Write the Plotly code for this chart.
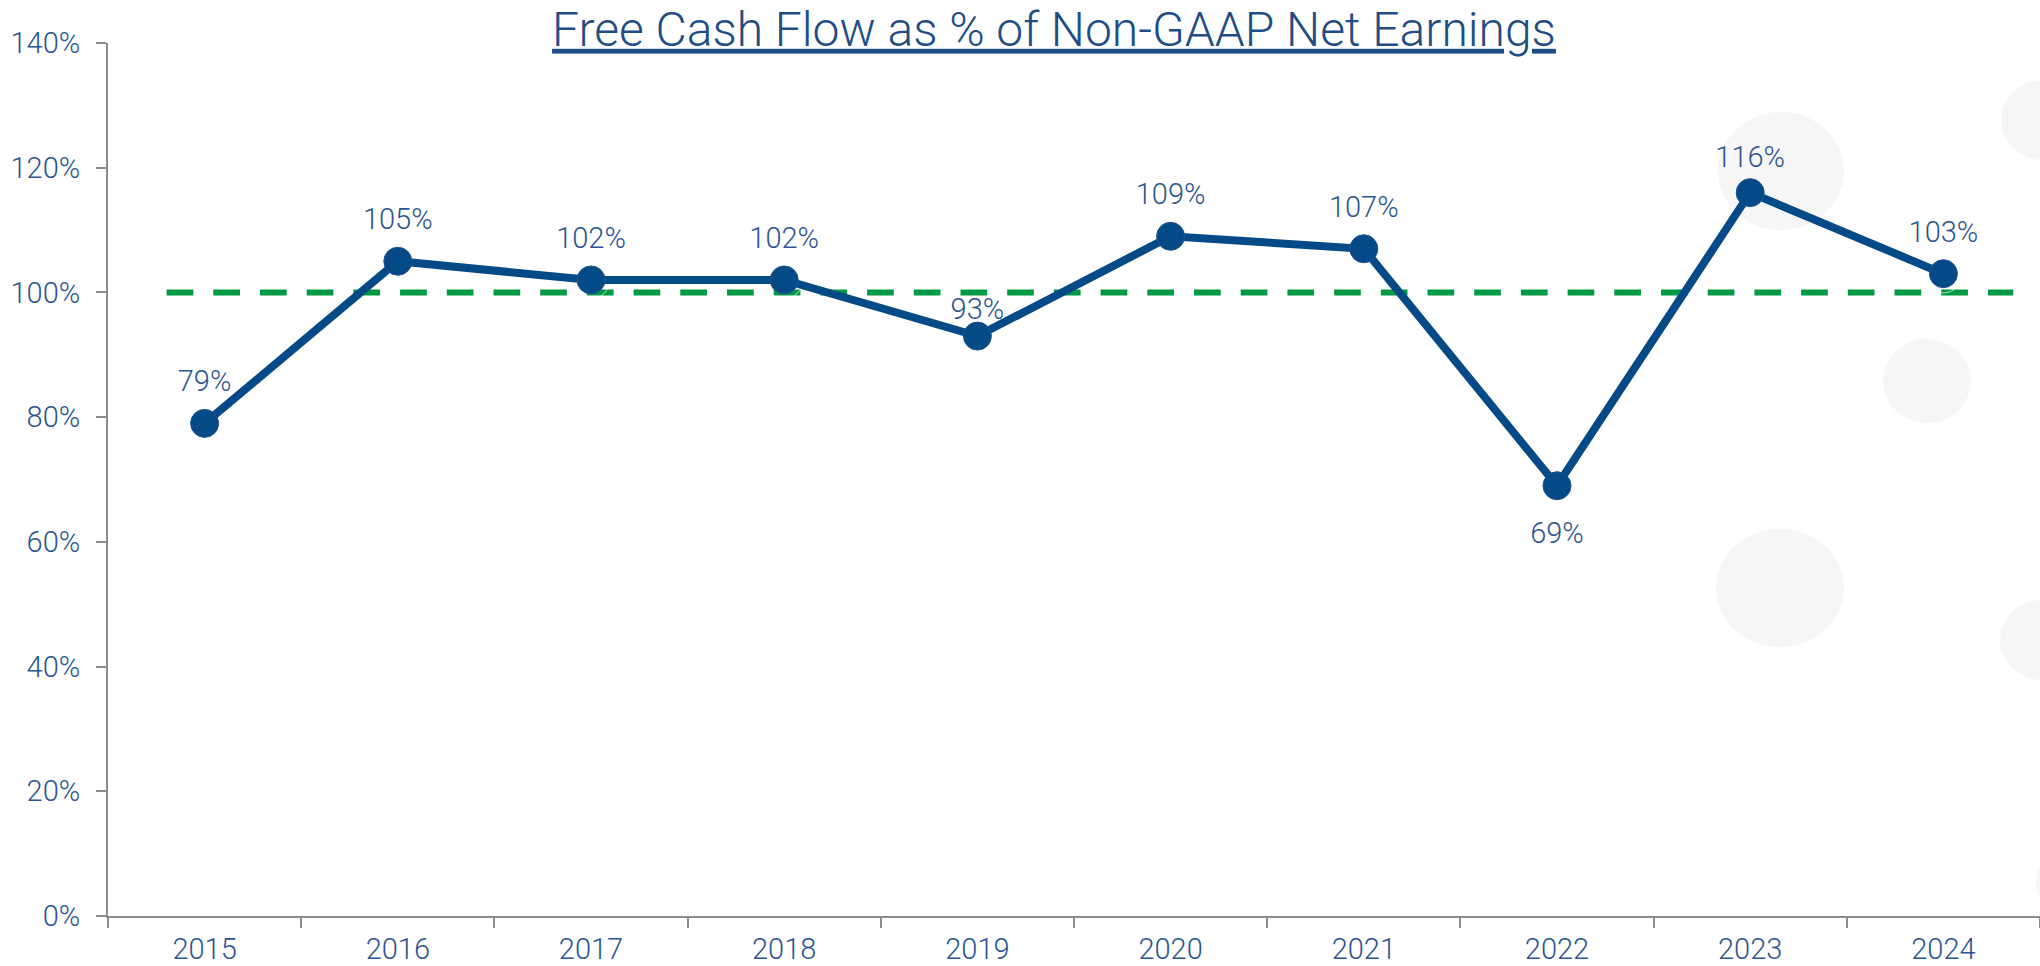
import plotly.graph_objects as go

# ---- data ----
years = ["2015", "2016", "2017", "2018", "2019", "2020", "2021", "2022", "2023", "2024"]
fcf_pct = [79, 105, 102, 102, 93, 109, 107, 69, 116, 103]
label_text = ["79%", "105%", "102%", "102%", "93%", "109%", "107%", "69%", "116%", "103%"]
label_below = [False, False, False, False, False, False, False, True, False, False]
target_pct = 100
y_ticks = [0, 20, 40, 60, 80, 100, 120, 140]
y_tick_text = ["0%", "20%", "40%", "60%", "80%", "100%", "120%", "140%"]
title_text = "Free Cash Flow as % of Non-GAAP Net Earnings"

# ---- geometry / style ----
W, H = 2040, 966
L, R, T, B = 108, 0, 43, 50
PX0, PX1 = L, W - R
PY0, PY1 = T, H - B

# distance (px) from point centre to label centre, per label
label_gap = [43, 43, 42, 42, 27, 43, 42, 47, 35.5, 42.5]


def xp(px):
    return (px - PX0) / (PX1 - PX0)


def yp(py):
    return (PY1 - py) / (PY1 - PY0)


LINE_COLOR = "#044A87"
TEXT_COLOR = "#2B5592"
TITLE_COLOR = "#1F4E87"
AXIS_COLOR = "#8C8C8C"
GREEN = "#009A44"
FONT = "Roboto"
FS = 29


def spacer_size(gap, below):
    # plotly offsets text by (marker radius / 0.8 + 1); solve for marker size
    if below:
        r = gap + 0.355 * FS - 0.75 * FS
    else:
        r = gap - 0.605 * FS
    return max(1.6 * (r - 1), 0)


fig = go.Figure()

# data labels (drawn first so the line sits on top, as in the reference)
fig.add_trace(go.Scatter(
    x=years, y=fcf_pct, mode="markers+text",
    text=label_text,
    textposition=["bottom center" if b else "top center" for b in label_below],
    textfont=dict(family=FONT, size=FS, color=TEXT_COLOR, weight=300),
    marker=dict(size=[spacer_size(g, b) for g, b in zip(label_gap, label_below)],
                color="rgba(0,0,0,0)"),
    hoverinfo="skip", showlegend=False, cliponaxis=False,
))

fig.add_trace(go.Scatter(
    x=years, y=fcf_pct, mode="lines+markers",
    line=dict(color=LINE_COLOR, width=8),
    marker=dict(size=28, color=LINE_COLOR, line=dict(color="#1F528F", width=1)),
    hoverinfo="skip", showlegend=False,
))

shapes = []
# decorative background circles (cx, cy, rx, ry in pixels)
circles = [(1781, 171, 63, 59), (1780, 588, 64, 59), (2044, 120, 43, 40),
           (2043, 640, 43, 40), (1927, 381, 44, 42), (2078, 882, 42, 40)]
for cx, cy, rx, ry in circles:
    shapes.append(dict(type="circle", xref="paper", yref="paper",
                       x0=xp(cx - rx), x1=xp(cx + rx), y0=yp(cy + ry), y1=yp(cy - ry),
                       fillcolor="#F6F6F6", line=dict(width=0), layer="below"))
# target line at 100%
shapes.append(dict(type="line", xref="paper", yref="y",
                   x0=xp(166.6), x1=xp(2013.3), y0=target_pct, y1=target_pct,
                   line=dict(color=GREEN, width=6, dash="26.7px,20px"), layer="below"))

fig.update_layout(
    width=W, height=H,
    margin=dict(l=L, r=R, t=T, b=B, pad=0),
    paper_bgcolor="white", plot_bgcolor="rgba(0,0,0,0)",
    title=dict(text="<u>" + title_text + "</u>", xref="container", yref="container",
               x=1054 / W, xanchor="center", y=1 - 29 / H, yanchor="middle",
               font=dict(family=FONT, size=48, color=TITLE_COLOR, weight=300)),
    shapes=shapes,
    xaxis=dict(type="category", range=[-0.5, 9.5], tickson="boundaries",
               ticks="outside", ticklen=10, tickwidth=2, tickcolor=AXIS_COLOR,
               showline=True, linecolor=AXIS_COLOR, linewidth=2, showgrid=False,
               zeroline=False, automargin=False, ticklabelstandoff=6,
               tickfont=dict(family=FONT, size=FS, color=TEXT_COLOR, weight=300)),
    yaxis=dict(range=[0, 140], tickvals=y_ticks, ticktext=y_tick_text,
               ticks="outside", ticklen=10, tickwidth=2, tickcolor=AXIS_COLOR,
               showline=True, linecolor=AXIS_COLOR, linewidth=2, showgrid=False,
               zeroline=False, automargin=False, ticklabelstandoff=10,
               tickfont=dict(family=FONT, size=FS, color=TEXT_COLOR, weight=300)),
)

fig.write_html("out.html", config={"displayModeBar": False},
               post_script="document.body.style.margin='0';")
